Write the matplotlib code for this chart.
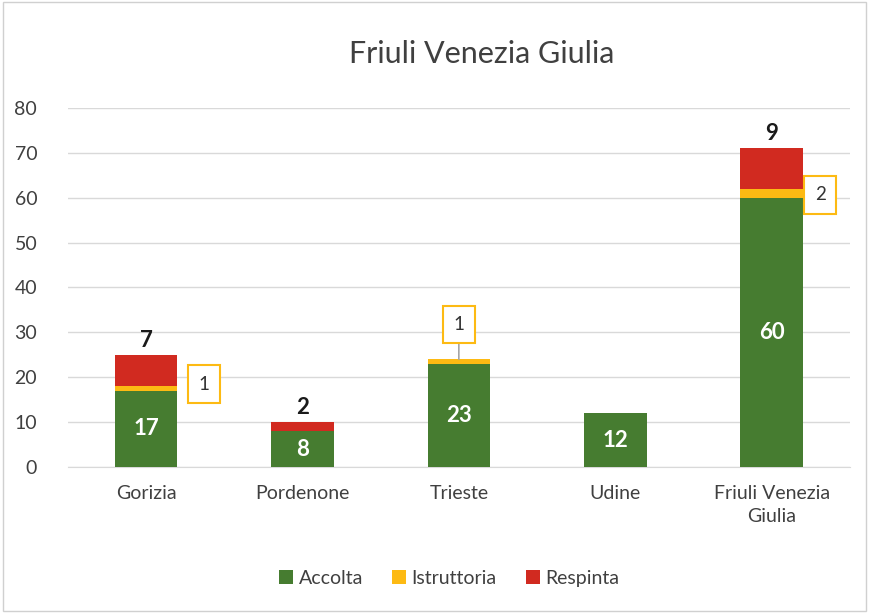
import numpy as np
import matplotlib.pyplot as plt
from matplotlib.patches import Rectangle

plt.rcParams['font.family'] = ['Lato', 'DejaVu Sans']

categories = ["Gorizia", "Pordenone", "Trieste", "Udine", "Friuli Venezia\nGiulia"]
accolta = [17, 8, 23, 12, 60]
istruttoria = [1, 0, 1, 0, 2]
respinta = [7, 2, 0, 0, 9]

c_acc = "#467C30"
c_ist = "#FDBA13"
c_res = "#D12A20"

fig = plt.figure(figsize=(8.69, 6.13), dpi=100)
ax = fig.add_axes([0.078, 0.238, 0.9, 0.586])

x = np.arange(len(categories))
w = 0.4
acc = np.array(accolta)
ist = np.array(istruttoria)
res = np.array(respinta)

ax.bar(x, acc, w, color=c_acc, label="Accolta", zorder=3)
ax.bar(x, ist, w, bottom=acc, color=c_ist, label="Istruttoria", zorder=3)
ax.bar(x, res, w, bottom=acc + ist, color=c_res, label="Respinta", zorder=3)

# labels inside green
for i, v in enumerate(accolta):
    ax.text(x[i], v / 2, str(v), ha='center', va='center', color='white',
            fontsize=16, fontweight='bold', zorder=4)

# respinta labels above
for i, v in enumerate(respinta):
    if v > 0:
        ax.annotate(str(v), (x[i], acc[i] + ist[i] + v), xytext=(0, 3),
                    textcoords='offset points', ha='center', va='bottom',
                    fontsize=16, fontweight='bold', color='#1a1a1a')

# istruttoria callouts
box = dict(boxstyle='square,pad=0.55', fc='white', ec=c_ist, lw=1.5)
ax.text(x[0] + 0.37, acc[0] + ist[0] + 0.5, "1", ha='center', va='center',
        fontsize=13.5, color='#333333', bbox=box, zorder=5)
ax.text(x[4] + 0.31, acc[4] + ist[4] - 1.4, "2", ha='center', va='center',
        fontsize=13.5, color='#333333', bbox=box, zorder=5)
ax.annotate("1", (x[2], acc[2] + ist[2]), xytext=(x[2], 31.8),
            ha='center', va='center', fontsize=13.5, color='#333333', bbox=box,
            arrowprops=dict(arrowstyle='-', color='#a6a6a6', lw=1.2,
                            shrinkA=0, shrinkB=0), zorder=5)

ax.set_xlim(-0.5, len(categories) - 0.5)
ax.set_ylim(0, 80)
ax.set_yticks(range(0, 81, 10))
ax.set_xticks(x)
ax.set_xticklabels(categories, fontsize=14, color='#404040', linespacing=1.45)
ax.tick_params(axis='y', labelsize=14, labelcolor='#404040', length=0, pad=22)
ax.tick_params(axis='x', length=0, pad=13)
ax.grid(axis='y', color='#d9d9d9', lw=1, zorder=0)
for s in ['top', 'right', 'left']:
    ax.spines[s].set_visible(False)
ax.spines['bottom'].set_color('#d9d9d9')

fig.text(0.554, 0.912, "Friuli Venezia Giulia", ha='center', va='center',
         fontsize=22, color='#404040')

fig.legend(loc='center', bbox_to_anchor=(0.517, 0.057), ncol=3, frameon=False,
           fontsize=14, handlelength=0.7, handleheight=0.7, columnspacing=1.5,
           handletextpad=0.3, labelcolor='#404040')

fig.patches.append(Rectangle((0.004, 0.004), 0.992, 0.992, transform=fig.transFigure,
                             fill=False, ec='#d0d0d0', lw=1))

fig.savefig("out.png", dpi=100)
